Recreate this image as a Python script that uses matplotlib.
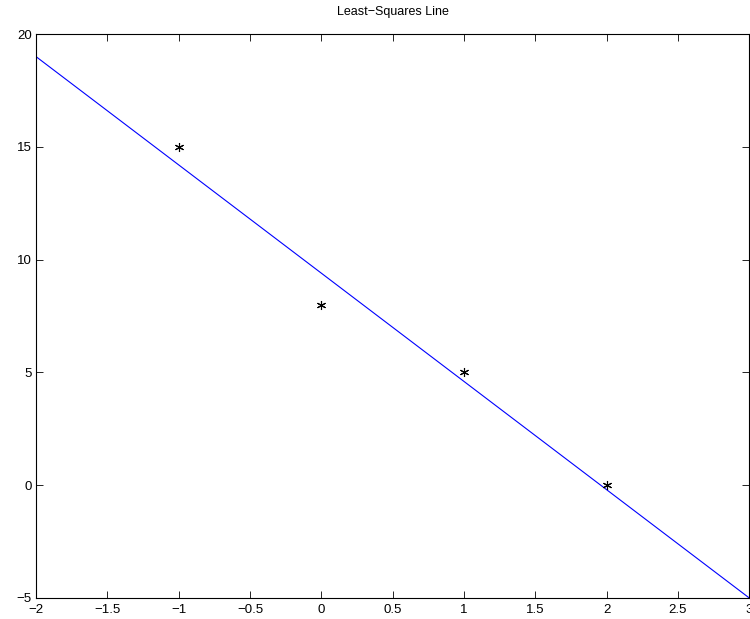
import numpy as np
import matplotlib.pyplot as plt

# data points
x_pts = np.array([-1, 0, 1, 2])
y_pts = np.array([15, 8, 5, 0])

x_ticks = [-2, -1.5, -1, -0.5, 0, 0.5, 1, 1.5, 2, 2.5, 3]
y_ticks = [-5, 0, 5, 10, 15, 20]

# least squares fit
slope, intercept = np.polyfit(x_pts, y_pts, 1)
x_line = np.array([-2, 3])
y_line = slope * x_line + intercept

plt.rcParams['font.family'] = ['Liberation Sans', 'DejaVu Sans']

fig = plt.figure(figsize=(7.5, 6.19), dpi=100)
ax = fig.add_axes([0.048, 0.034, 0.951, 0.911])

ax.plot(x_line, y_line, color='blue', linewidth=0.8)
ax.plot(x_pts, y_pts, linestyle='none', marker=(6, 2, 0), markersize=6.5,
        color='black', markeredgewidth=0.8)

ax.set_xlim(-2, 3)
ax.set_ylim(-5, 20)
ax.set_xticks(x_ticks)
ax.set_yticks(y_ticks)
ax.set_xticklabels(['\u22122', '\u22121.5', '\u22121', '\u22120.5', '0', '0.5',
                    '1', '1.5', '2', '2.5', '3'])
ax.set_yticklabels(['\u22125', '0', '5', '10', '15', '20'])
ax.tick_params(direction='in', top=True, right=True, labelsize=9.5,
               length=5, width=0.6)
ax.tick_params(axis='x', pad=4)
ax.tick_params(axis='y', pad=3)
for s in ax.spines.values():
    s.set_linewidth(0.8)
ax.set_title('Least\u2212Squares Line', fontsize=9, pad=14)

fig.savefig('out.png', dpi=100)
plt.close(fig)
